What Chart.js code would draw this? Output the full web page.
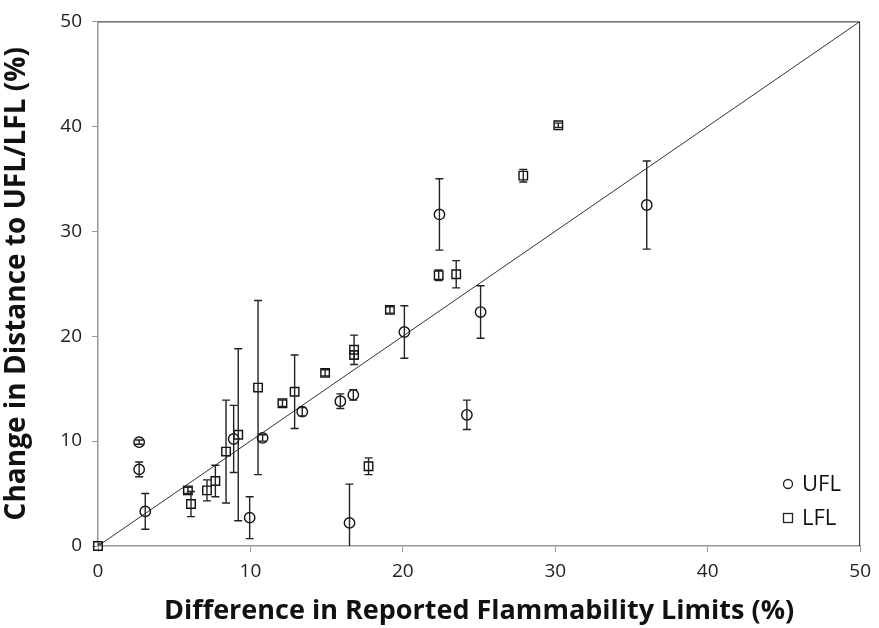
<!DOCTYPE html>
<html>
<head>
<meta charset="utf-8">
<script src="https://cdn.jsdelivr.net/npm/chart.js@4"></script>
<style>
  html, body { margin: 0; padding: 0; background: #fff; }
  #wrap { position: relative; width: 879px; height: 628px; }
</style>
</head>
<body>
<div id="wrap"><canvas id="chart" width="879" height="628"></canvas></div>
<script>
// UFL points (circles)
const uflX = [2.7, 2.7, 3.1, 8.9, 9.95, 10.8, 13.4, 15.9, 16.75, 16.5, 20.1, 22.4, 24.2, 25.1, 36.0];
const uflY = [9.9, 7.3, 3.3, 10.2, 2.7, 10.3, 12.8, 13.8, 14.4, 2.2, 20.4, 31.6, 12.5, 22.3, 32.5];
const uflErr = [0.2, 0.7, 1.7, 3.2, 2.0, 0.3, 0.4, 0.7, 0.5, 3.7, 2.5, 3.4, 1.4, 2.5, 4.2];

// LFL points (squares)
const lflX = [0, 5.9, 6.1, 7.15, 7.7, 8.4, 9.2, 10.5, 12.1, 12.9, 14.9, 16.8, 16.8, 17.75, 19.15, 22.35, 23.5, 27.9, 30.2];
const lflY = [0, 5.3, 4.0, 5.3, 6.2, 9.0, 10.6, 15.1, 13.6, 14.7, 16.5, 18.7, 18.2, 7.6, 22.5, 25.8, 25.9, 35.3, 40.1];
const lflErr = [0.2, 0.3, 1.2, 1.0, 1.5, 4.9, 8.2, 8.3, 0.3, 3.5, 0.3, 1.4, 0.4, 0.8, 0.3, 0.5, 1.3, 0.6, 0.2];

// 1:1 reference line
const parityLine = [0, 50];
const axisTicks = [0, 10, 20, 30, 40, 50];

const toPoints = (xs, ys, errs) => xs.map((x, i) => ({ x: x, y: ys[i], err: errs[i] }));

// Error bars, frame and legend
const extrasPlugin = {
  id: 'extras',
  afterDatasetsDraw(chart) {
    const ctx = chart.ctx;
    const xs = chart.scales.x, ys = chart.scales.y;
    const area = chart.chartArea;
    ctx.save();
    ctx.beginPath();
    ctx.rect(area.left, area.top - 5, area.right - area.left, area.bottom - area.top + 5);
    ctx.clip();
    ctx.strokeStyle = '#222';
    ctx.lineWidth = 1.4;
    [0, 1].forEach(di => {
      chart.data.datasets[di].data.forEach(p => {
        const px = xs.getPixelForValue(p.x);
        const top = ys.getPixelForValue(p.y + p.err);
        const bot = ys.getPixelForValue(p.y - p.err);
        ctx.beginPath();
        ctx.moveTo(px, top); ctx.lineTo(px, bot);
        ctx.moveTo(px - 4, top); ctx.lineTo(px + 4, top);
        if (p.y - p.err >= 0) { ctx.moveTo(px - 4, bot); ctx.lineTo(px + 4, bot); }
        ctx.stroke();
      });
    });
    ctx.restore();

    // top and right frame
    ctx.save();
    ctx.strokeStyle = '#222';
    ctx.lineWidth = 1;
    ctx.beginPath();
    ctx.moveTo(area.left, area.top + 0.5);
    ctx.lineTo(area.right - 0.5, area.top + 0.5);
    ctx.lineTo(area.right - 0.5, area.bottom);
    ctx.stroke();

    // legend
    ctx.fillStyle = '#111';
    ctx.font = '22px "Open Sans", sans-serif';
    ctx.textBaseline = 'middle';
    ctx.lineWidth = 1.3;
    ctx.beginPath();
    ctx.arc(788, 484, 4.5, 0, Math.PI * 2);
    ctx.stroke();
    ctx.strokeRect(783.5, 513.5, 9, 9);
    ctx.fillText('UFL', 802, 485);
    ctx.fillText('LFL', 802, 519);
    ctx.restore();
  }
};

const tickFont = { family: '"Open Sans", sans-serif', size: 19 };
const xTitleFont = { family: '"Open Sans", sans-serif', size: 27, weight: 'bold' };
const yTitleFont = { family: '"Open Sans", sans-serif', size: 28, weight: 'bold' };

new Chart(document.getElementById('chart'), {
  type: 'scatter',
  data: {
    datasets: [
      {
        label: 'UFL',
        data: toPoints(uflX, uflY, uflErr),
        pointStyle: 'circle',
        pointRadius: 5.2,
        borderColor: '#111',
        backgroundColor: 'rgba(0,0,0,0)',
        borderWidth: 1.4,
        clip: false
      },
      {
        label: 'LFL',
        data: toPoints(lflX, lflY, lflErr),
        pointStyle: 'rect',
        pointRadius: 6,
        borderColor: '#111',
        backgroundColor: 'rgba(0,0,0,0)',
        borderWidth: 1.4,
        clip: false
      },
      {
        type: 'line',
        label: '1:1',
        data: parityLine.map(v => ({ x: v, y: v })),
        borderColor: '#333',
        borderWidth: 1,
        pointRadius: 0
      }
    ]
  },
  options: {
    responsive: false,
    animation: false,
    layout: { padding: { top: 21, right: 16, left: 0, bottom: 0 } },
    plugins: { legend: { display: false }, tooltip: { enabled: false } },
    scales: {
      x: {
        type: 'linear', min: 0, max: 50,
        afterBuildTicks: s => { s.ticks = axisTicks.map(v => ({ value: v })); },
        afterFit: s => { s.height = 82; },
        grid: { drawOnChartArea: false, drawTicks: true, tickLength: 6, color: '#999' },
        border: { color: '#999', width: 1.5 },
        ticks: { color: '#222', font: tickFont, padding: 8, maxRotation: 0 },
        title: { display: true, text: 'Difference in Reported Flammability Limits (%)', color: '#111', font: xTitleFont, padding: { top: 2, bottom: 0 } }
      },
      y: {
        type: 'linear', min: 0, max: 50,
        afterBuildTicks: s => { s.ticks = axisTicks.map(v => ({ value: v })); },
        afterFit: s => { s.width = 98; },
        grid: { drawOnChartArea: false, drawTicks: true, tickLength: 6, color: '#999' },
        border: { color: '#999', width: 1.5 },
        ticks: { color: '#222', font: tickFont, padding: 10 },
        title: { display: true, text: 'Change in Distance to UFL/LFL (%)', color: '#111', font: yTitleFont, padding: { top: 0, bottom: 6 } }
      }
    }
  },
  plugins: [extrasPlugin]
});
</script>
</body>
</html>
